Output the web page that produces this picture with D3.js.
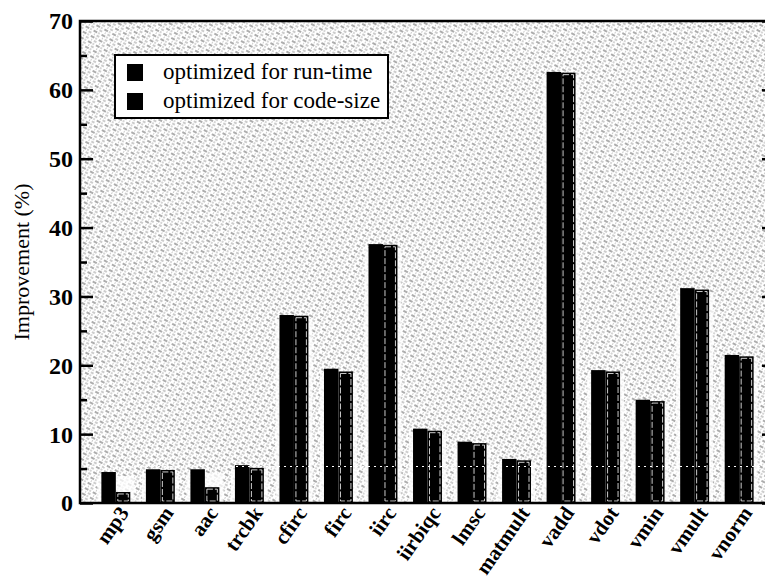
<!DOCTYPE html>
<html>
<head>
<meta charset="utf-8">
<script src="https://cdn.jsdelivr.net/npm/d3@7"></script>
<style>
  body { margin: 0; background: #fff; }
  svg text { font-family: "Liberation Serif", "DejaVu Serif", serif; }
</style>
</head>
<body>
<div id="chart"></div>
<script>
// data
var benchmarks = ["mp3", "gsm", "aac", "trcbk", "cfirc", "firc", "iirc", "iirbiqc",
                  "lmsc", "matmult", "vadd", "vdot", "vmin", "vmult", "vnorm"];
var runTime  = [4.5, 4.9, 4.9, 5.5, 27.3, 19.5, 37.6, 10.8, 8.9, 6.4, 62.6, 19.3, 15.0, 31.2, 21.5];
var codeSize = [1.6, 4.8, 2.3, 5.1, 27.2, 19.1, 37.5, 10.5, 8.7, 6.2, 62.5, 19.1, 14.8, 31.0, 21.3];
var seriesNames = ["optimized for run-time", "optimized for code-size"];
var yTicks = [0, 10, 20, 30, 40, 50, 60, 70];

var width = 765, height = 580;
var margin = {top: 21, right: -10, bottom: 77, left: 80};

var svg = d3.select("#chart").append("svg")
    .attr("width", width)
    .attr("height", height);

// speckled, scanned-looking background: diagonal dashes
var defs = svg.append("defs");
var pat = defs.append("pattern")
    .attr("id", "speckle")
    .attr("patternUnits", "userSpaceOnUse")
    .attr("width", 9).attr("height", 6)
    .attr("patternTransform", "rotate(28)");
pat.append("line")
    .attr("x1", 0).attr("y1", 1).attr("x2", 9).attr("y2", 1)
    .attr("stroke", "#222").attr("stroke-width", 0.75)
    .attr("stroke-dasharray", "2 1.5 1 2.5");
pat.append("line")
    .attr("x1", 0).attr("y1", 4).attr("x2", 9).attr("y2", 4)
    .attr("stroke", "#444").attr("stroke-width", 0.55)
    .attr("stroke-dasharray", "1 2 3 3");

var x0 = margin.left, x1 = width - margin.right;
var yBottom = height - margin.bottom;

var x = d3.scaleBand()
    .domain(benchmarks)
    .range([x0, x1])
    .paddingInner(0.35)
    .paddingOuter(0.48);

var xs = d3.scaleBand()
    .domain([0, 1])
    .range([0, x.bandwidth()]);

var y = d3.scaleLinear()
    .domain([0, 70])
    .range([yBottom, margin.top]);

// plot background
svg.append("rect")
    .attr("x", x0).attr("y", margin.top)
    .attr("width", x1 - x0).attr("height", yBottom - margin.top)
    .attr("fill", "url(#speckle)");

// bars
var groups = svg.selectAll(".grp")
    .data(benchmarks)
    .join("g")
    .attr("class", "grp")
    .attr("transform", d => "translate(" + x(d) + ",0)");

// lighter gap right around each pair
groups.append("rect")
    .attr("x", -4)
    .attr("y", (d, i) => y(Math.max(runTime[i], codeSize[i])) + 4)
    .attr("width", x.bandwidth() + 8)
    .attr("height", (d, i) => yBottom - y(Math.max(runTime[i], codeSize[i])) - 4)
    .attr("fill", "#fff")
    .attr("opacity", 0.75);

groups.append("rect")
    .attr("x", xs(0))
    .attr("y", (d, i) => y(runTime[i]))
    .attr("width", xs.bandwidth())
    .attr("height", (d, i) => yBottom - y(runTime[i]))
    .attr("fill", "#000");

groups.append("rect")
    .attr("x", xs(1))
    .attr("y", (d, i) => y(codeSize[i]))
    .attr("width", xs.bandwidth())
    .attr("height", (d, i) => yBottom - y(codeSize[i]))
    .attr("fill", "#000");

// white inner outline on the code-size bar
groups.append("rect")
    .attr("x", xs(1) + 2)
    .attr("y", (d, i) => y(codeSize[i]) + 2)
    .attr("width", xs.bandwidth() - 4)
    .attr("height", (d, i) => Math.max(0, yBottom - y(codeSize[i]) - 4))
    .attr("fill", "none")
    .attr("stroke", "#fff")
    .attr("stroke-width", 0.8)
    .attr("stroke-dasharray", "6 2");

// dashed white reference line seen through the bars
svg.append("line")
    .attr("x1", x0).attr("x2", x1)
    .attr("y1", y(5.3)).attr("y2", y(5.3))
    .attr("stroke", "#fff")
    .attr("stroke-width", 1.2)
    .attr("stroke-dasharray", "2 4");

// axes, ticks inward, minor ticks at 5s
var minor = d3.range(5, 70, 10);
var axisLeft = d3.axisRight(y).tickValues(yTicks).tickSize(13).tickFormat("");
var axisLeftMinor = d3.axisRight(y).tickValues(minor).tickSize(7).tickFormat("");
var axisRight = d3.axisLeft(y).tickValues(yTicks).tickSize(13).tickFormat("");
var axisRightMinor = d3.axisLeft(y).tickValues(minor).tickSize(7).tickFormat("");

[[axisLeft, x0], [axisLeftMinor, x0], [axisRight, x1], [axisRightMinor, x1]].forEach(function (a) {
    var g = svg.append("g")
        .attr("transform", "translate(" + a[1] + ",0)")
        .call(a[0]);
    g.select(".domain").remove();
    g.selectAll("line").attr("stroke", "#000").attr("stroke-width", 2.5);
});

// frame
svg.append("rect")
    .attr("x", x0).attr("y", margin.top)
    .attr("width", x1 - x0).attr("height", yBottom - margin.top)
    .attr("fill", "none")
    .attr("stroke", "#000")
    .attr("stroke-width", 2.5);

// y tick labels
svg.selectAll(".ylab")
    .data(yTicks)
    .join("text")
    .attr("class", "ylab")
    .attr("x", x0 - 7)
    .attr("y", d => y(d))
    .attr("dy", "0.35em")
    .attr("text-anchor", "end")
    .style("font-size", "24px")
    .style("font-weight", "bold")
    .text(d => d);

// y title
svg.append("text")
    .attr("transform", "translate(29," + ((margin.top + yBottom) / 2) + ") rotate(-90)")
    .attr("text-anchor", "middle")
    .style("font-size", "22px")
    .text("Improvement (%)");

// x labels, rotated
svg.selectAll(".xlab")
    .data(benchmarks)
    .join("text")
    .attr("class", "xlab")
    .attr("text-anchor", "end")
    .attr("transform", d => "translate(" + (x(d) + x.bandwidth() / 2 + 14) + "," + (yBottom + 10) + ") rotate(-55)")
    .style("font-size", "21px")
    .style("font-weight", "bold")
    .text(d => d);

// legend
var legend = svg.append("g").attr("transform", "translate(115,55)");
legend.append("rect")
    .attr("width", 273).attr("height", 63)
    .attr("fill", "#fff")
    .attr("stroke", "#000")
    .attr("stroke-width", 2);
seriesNames.forEach(function (s, i) {
    legend.append("rect")
        .attr("x", 12).attr("y", 9 + i * 29)
        .attr("width", 16).attr("height", 17)
        .attr("fill", "#000");
    legend.append("text")
        .attr("x", 48).attr("y", 24 + i * 29)
        .style("font-size", "23px")
        .text(s);
});
</script>
</body>
</html>
